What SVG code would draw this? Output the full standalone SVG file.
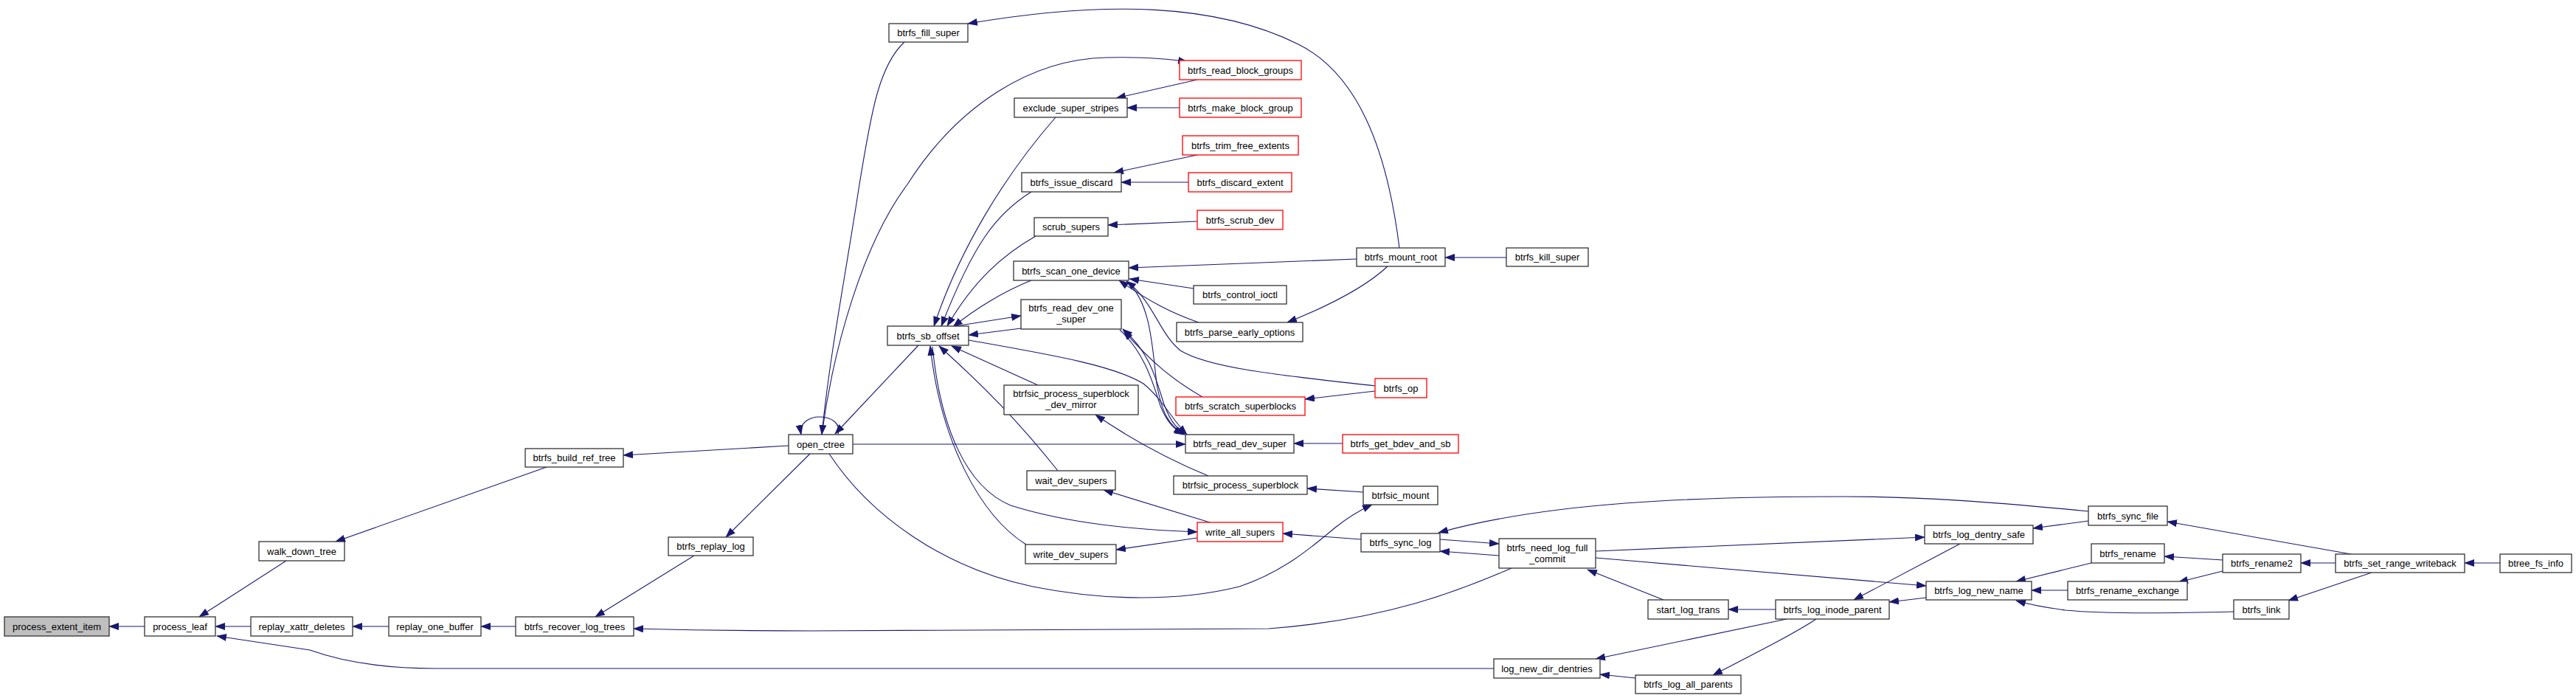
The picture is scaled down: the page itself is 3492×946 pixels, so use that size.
<svg xmlns="http://www.w3.org/2000/svg" width="3492" height="946" viewBox="0 0 3492 946">
<style>
.n rect{fill:#ffffff;stroke:#333333;stroke-width:1.3}
.n.r rect{stroke:#ff0000}
.n.g rect{fill:#bfbfbf}
.n text{font-family:"Liberation Sans",Arial,sans-serif;font-size:13px;fill:#000000;text-anchor:middle}
.e path{fill:none;stroke:#191970;stroke-width:1.1}
</style>
<defs>
<marker id="a" markerWidth="14" markerHeight="10" refX="13" refY="5" orient="auto" markerUnits="userSpaceOnUse">
<path d="M0,0 L14,5 L0,10 z" fill="#191970"/>
</marker>
</defs>
<rect width="3492" height="946" fill="#ffffff"/>
<g class="e" id="edges">
<path marker-end="url(#a)" d="M196,849 L148,849"/>
<path marker-end="url(#a)" d="M340,849 L292,849"/>
<path marker-end="url(#a)" d="M527,849 L478,849"/>
<path marker-end="url(#a)" d="M699,849 L652,849"/>
<path marker-end="url(#a)" d="M388,760 L270,836"/>
<path marker-end="url(#a)" d="M741,633 L455,734"/>
<path marker-end="url(#a)" d="M1069,604 L845,617"/>
<path marker-end="url(#a)" d="M1098,615 L984,728"/>
<path marker-end="url(#a)" d="M941,753 L807,836"/>
<path marker-end="url(#a)" d="M2025,906 L590,906 C520,906 465,897 420,881 L294,862"/>
<path marker-end="url(#a)" d="M2049,770 C1980,800 1880,840 1720,852 L1100,855 C1000,855 900,853 859,852"/>
<path marker-end="url(#a)" d="M1136,589 C1145,558 1080,556 1086,589"/>
<path marker-end="url(#a)" d="M1226,57 C1190,90 1180,160 1165,250 C1145,380 1125,480 1114,589"/>
<path marker-end="url(#a)" d="M1114,589 C1130,470 1170,330 1230,250 C1300,140 1400,80 1500,78 C1550,77 1580,79 1610,84"/>
<path marker-end="url(#a)" d="M1245,468 L1132,588"/>
<path marker-end="url(#a)" d="M1156,602 L1607,602"/>
<path marker-end="url(#a)" d="M1124,615 C1180,700 1280,770 1400,795 C1500,815 1600,815 1680,795 C1740,775 1780,740 1810,715 C1825,703 1840,693 1860,684"/>
<path marker-end="url(#a)" d="M1897,336 C1880,200 1840,100 1760,60 C1650,5 1500,0 1312,32"/>
<path marker-end="url(#a)" d="M1839,351 L1530,363"/>
<path marker-end="url(#a)" d="M1881,361 C1850,390 1800,415 1745,437"/>
<path marker-end="url(#a)" d="M2042,349 L1959,349"/>
<path marker-end="url(#a)" d="M1623,108 L1513,133"/>
<path marker-end="url(#a)" d="M1599,146 L1528,146"/>
<path marker-end="url(#a)" d="M1623,210 L1510,234"/>
<path marker-end="url(#a)" d="M1611,247 L1520,247"/>
<path marker-end="url(#a)" d="M1623,300 L1502,305"/>
<path marker-end="url(#a)" d="M1431,159 C1360,240 1300,340 1266,442"/>
<path marker-end="url(#a)" d="M1398,260 C1350,290 1320,330 1276,442"/>
<path marker-end="url(#a)" d="M1404,320 C1360,345 1320,380 1284,442"/>
<path marker-end="url(#a)" d="M1398,380 C1360,395 1320,420 1292,443"/>
<path marker-end="url(#a)" d="M1295,442 L1384,428"/>
<path marker-end="url(#a)" d="M1384,445 L1313,454"/>
<path marker-end="url(#a)" d="M1407,522 L1290,469"/>
<path marker-end="url(#a)" d="M1434,638 C1380,570 1330,520 1273,469"/>
<path marker-end="url(#a)" d="M1391,738 C1330,700 1275,600 1261,469"/>
<path marker-end="url(#a)" d="M1264,470 C1275,580 1310,660 1370,685 C1450,710 1540,718 1623,721"/>
<path marker-end="url(#a)" d="M1313,461 C1420,480 1510,495 1550,520 C1575,540 1590,570 1609,589"/>
<path marker-end="url(#a)" d="M1518,447 C1553,480 1563,520 1573,550 C1583,575 1593,582 1604,589"/>
<path marker-end="url(#a)" d="M1608,588 C1597,582 1588,575 1578,548 C1568,518 1560,478 1522,446"/>
<path marker-end="url(#a)" d="M1630,538 C1590,515 1560,490 1523,448"/>
<path marker-end="url(#a)" d="M1528,382 C1560,410 1562,470 1568,520 C1575,560 1585,578 1606,589"/>
<path marker-end="url(#a)" d="M1864,523 C1750,510 1640,500 1600,475 C1570,450 1565,410 1527,381"/>
<path marker-end="url(#a)" d="M1625,437 C1590,425 1560,410 1517,380"/>
<path marker-end="url(#a)" d="M1618,391 L1531,378"/>
<path marker-end="url(#a)" d="M1864,530 L1769,541"/>
<path marker-end="url(#a)" d="M1820,601 L1754,601"/>
<path marker-end="url(#a)" d="M1638,645 C1590,625 1540,600 1485,562"/>
<path marker-end="url(#a)" d="M1848,667 L1772,662"/>
<path marker-end="url(#a)" d="M1640,708 L1496,664"/>
<path marker-end="url(#a)" d="M1623,729 L1513,745"/>
<path marker-end="url(#a)" d="M1845,731 L1739,723"/>
<path marker-end="url(#a)" d="M2831,693 C2700,680 2600,673 2500,673 C2300,673 2100,680 1950,722"/>
<path marker-end="url(#a)" d="M1952,731 L2032,737"/>
<path marker-end="url(#a)" d="M2032,753 L1952,747"/>
<path marker-end="url(#a)" d="M2163,747 L2609,728"/>
<path marker-end="url(#a)" d="M2163,756 L2611,794"/>
<path marker-end="url(#a)" d="M2255,813 L2152,772"/>
<path marker-end="url(#a)" d="M2407,826 L2343,826"/>
<path marker-end="url(#a)" d="M2422,839 L2163,893"/>
<path marker-end="url(#a)" d="M2462,839 C2430,860 2380,885 2322,915"/>
<path marker-end="url(#a)" d="M2217,919 L2169,914"/>
<path marker-end="url(#a)" d="M2657,737 L2513,813"/>
<path marker-end="url(#a)" d="M2611,810 L2561,816"/>
<path marker-end="url(#a)" d="M2831,706 L2756,716"/>
<path marker-end="url(#a)" d="M2835,763 L2733,788"/>
<path marker-end="url(#a)" d="M2803,800 L2754,800"/>
<path marker-end="url(#a)" d="M3028,829 C2950,831 2850,832 2800,827 C2770,823 2750,819 2733,814"/>
<path marker-end="url(#a)" d="M3013,759 L2934,754"/>
<path marker-end="url(#a)" d="M3013,774 L2953,789"/>
<path marker-end="url(#a)" d="M3166,763 L3119,763"/>
<path marker-end="url(#a)" d="M3187,751 L2938,707"/>
<path marker-end="url(#a)" d="M3215,776 L3102,814"/>
<path marker-end="url(#a)" d="M3389,763 L3341,763"/>
</g>
<g class="n g" id="process_extent_item"><rect x="6" y="836" width="142" height="26"/><text x="77" y="853.5">process_extent_item</text></g>
<g class="n" id="process_leaf"><rect x="196" y="836" width="96" height="26"/><text x="244" y="853.5">process_leaf</text></g>
<g class="n" id="replay_xattr_deletes"><rect x="340" y="836" width="138" height="26"/><text x="409" y="853.5">replay_xattr_deletes</text></g>
<g class="n" id="replay_one_buffer"><rect x="527" y="836" width="125" height="26"/><text x="589.5" y="853.5">replay_one_buffer</text></g>
<g class="n" id="btrfs_recover_log_trees"><rect x="699" y="836" width="160" height="26"/><text x="779" y="853.5">btrfs_recover_log_trees</text></g>
<g class="n" id="walk_down_tree"><rect x="351" y="734" width="116" height="26"/><text x="409" y="751.5">walk_down_tree</text></g>
<g class="n" id="btrfs_build_ref_tree"><rect x="712" y="608" width="133" height="25"/><text x="778.5" y="625">btrfs_build_ref_tree</text></g>
<g class="n" id="btrfs_replay_log"><rect x="906" y="728" width="115" height="25"/><text x="963.5" y="745">btrfs_replay_log</text></g>
<g class="n" id="open_ctree"><rect x="1069" y="589" width="87" height="26"/><text x="1112.5" y="606.5">open_ctree</text></g>
<g class="n" id="btrfs_fill_super"><rect x="1205" y="32" width="107" height="25"/><text x="1258.5" y="49">btrfs_fill_super</text></g>
<g class="n r" id="btrfs_read_block_groups"><rect x="1599" y="82" width="165" height="26"/><text x="1681.5" y="99.5">btrfs_read_block_groups</text></g>
<g class="n" id="exclude_super_stripes"><rect x="1375" y="133" width="153" height="26"/><text x="1451.5" y="150.5">exclude_super_stripes</text></g>
<g class="n r" id="btrfs_make_block_group"><rect x="1599" y="133" width="165" height="26"/><text x="1681.5" y="150.5">btrfs_make_block_group</text></g>
<g class="n r" id="btrfs_trim_free_extents"><rect x="1603" y="184" width="157" height="26"/><text x="1681.5" y="201.5">btrfs_trim_free_extents</text></g>
<g class="n" id="btrfs_issue_discard"><rect x="1385" y="234" width="135" height="26"/><text x="1452.5" y="251.5">btrfs_issue_discard</text></g>
<g class="n r" id="btrfs_discard_extent"><rect x="1611" y="234" width="140" height="26"/><text x="1681" y="251.5">btrfs_discard_extent</text></g>
<g class="n" id="scrub_supers"><rect x="1402" y="295" width="100" height="25"/><text x="1452" y="312">scrub_supers</text></g>
<g class="n r" id="btrfs_scrub_dev"><rect x="1623" y="285" width="116" height="26"/><text x="1681" y="302.5">btrfs_scrub_dev</text></g>
<g class="n" id="btrfs_scan_one_device"><rect x="1374" y="354" width="156" height="26"/><text x="1452" y="371.5">btrfs_scan_one_device</text></g>
<g class="n" id="btrfs_mount_root"><rect x="1839" y="336" width="120" height="25"/><text x="1899" y="353">btrfs_mount_root</text></g>
<g class="n" id="btrfs_kill_super"><rect x="2042" y="336" width="111" height="25"/><text x="2097.5" y="353">btrfs_kill_super</text></g>
<g class="n" id="btrfs_control_ioctl"><rect x="1618" y="387" width="126" height="25"/><text x="1681" y="404">btrfs_control_ioctl</text></g>
<g class="n" id="btrfs_read_dev_one_super"><rect x="1384" y="406" width="136" height="40"/><text x="1452" y="422">btrfs_read_dev_one</text><text x="1452" y="437">_super</text></g>
<g class="n" id="btrfs_sb_offset"><rect x="1203" y="442" width="110" height="26"/><text x="1258" y="459.5">btrfs_sb_offset</text></g>
<g class="n" id="btrfs_parse_early_options"><rect x="1595" y="437" width="171" height="26"/><text x="1680.5" y="454.5">btrfs_parse_early_options</text></g>
<g class="n r" id="btrfs_op"><rect x="1864" y="513" width="70" height="26"/><text x="1899" y="530.5">btrfs_op</text></g>
<g class="n r" id="btrfs_scratch_superblocks"><rect x="1594" y="538" width="175" height="25"/><text x="1681.5" y="555">btrfs_scratch_superblocks</text></g>
<g class="n" id="btrfsic_process_superblock_dev_mirror"><rect x="1361" y="522" width="182" height="40"/><text x="1452" y="538">btrfsic_process_superblock</text><text x="1452" y="553">_dev_mirror</text></g>
<g class="n" id="btrfs_read_dev_super"><rect x="1607" y="589" width="147" height="25"/><text x="1680.5" y="606">btrfs_read_dev_super</text></g>
<g class="n r" id="btrfs_get_bdev_and_sb"><rect x="1820" y="589" width="157" height="25"/><text x="1898.5" y="606">btrfs_get_bdev_and_sb</text></g>
<g class="n" id="wait_dev_supers"><rect x="1392" y="638" width="120" height="26"/><text x="1452" y="655.5">wait_dev_supers</text></g>
<g class="n" id="btrfsic_process_superblock"><rect x="1591" y="645" width="181" height="25"/><text x="1681.5" y="662">btrfsic_process_superblock</text></g>
<g class="n" id="btrfsic_mount"><rect x="1848" y="659" width="101" height="25"/><text x="1898.5" y="676">btrfsic_mount</text></g>
<g class="n r" id="write_all_supers"><rect x="1623" y="708" width="116" height="26"/><text x="1681" y="725.5">write_all_supers</text></g>
<g class="n" id="btrfs_sync_log"><rect x="1845" y="723" width="107" height="25"/><text x="1898.5" y="740">btrfs_sync_log</text></g>
<g class="n" id="write_dev_supers"><rect x="1390" y="738" width="123" height="26"/><text x="1451.5" y="755.5">write_dev_supers</text></g>
<g class="n" id="btrfs_need_log_full_commit"><rect x="2032" y="730" width="131" height="40"/><text x="2097.5" y="746.5">btrfs_need_log_full</text><text x="2097.5" y="761.5">_commit</text></g>
<g class="n" id="start_log_trans"><rect x="2234" y="813" width="109" height="26"/><text x="2288.5" y="830.5">start_log_trans</text></g>
<g class="n" id="log_new_dir_dentries"><rect x="2025" y="893" width="144" height="26"/><text x="2097" y="910.5">log_new_dir_dentries</text></g>
<g class="n" id="btrfs_log_all_parents"><rect x="2217" y="915" width="143" height="25"/><text x="2288.5" y="932">btrfs_log_all_parents</text></g>
<g class="n" id="btrfs_log_inode_parent"><rect x="2407" y="813" width="154" height="26"/><text x="2484" y="830.5">btrfs_log_inode_parent</text></g>
<g class="n" id="btrfs_log_dentry_safe"><rect x="2609" y="712" width="147" height="25"/><text x="2682.5" y="729">btrfs_log_dentry_safe</text></g>
<g class="n" id="btrfs_log_new_name"><rect x="2611" y="788" width="143" height="25"/><text x="2682.5" y="805">btrfs_log_new_name</text></g>
<g class="n" id="btrfs_sync_file"><rect x="2831" y="686" width="107" height="26"/><text x="2884.5" y="703.5">btrfs_sync_file</text></g>
<g class="n" id="btrfs_rename"><rect x="2835" y="737" width="99" height="26"/><text x="2884.5" y="754.5">btrfs_rename</text></g>
<g class="n" id="btrfs_rename_exchange"><rect x="2803" y="788" width="162" height="25"/><text x="2884" y="805">btrfs_rename_exchange</text></g>
<g class="n" id="btrfs_link"><rect x="3028" y="813" width="75" height="26"/><text x="3065.5" y="830.5">btrfs_link</text></g>
<g class="n" id="btrfs_rename2"><rect x="3013" y="751" width="106" height="25"/><text x="3066" y="768">btrfs_rename2</text></g>
<g class="n" id="btrfs_set_range_writeback"><rect x="3166" y="751" width="175" height="25"/><text x="3253.5" y="768">btrfs_set_range_writeback</text></g>
<g class="n" id="btree_fs_info"><rect x="3389" y="751" width="97" height="25"/><text x="3437.5" y="768">btree_fs_info</text></g>
</svg>
